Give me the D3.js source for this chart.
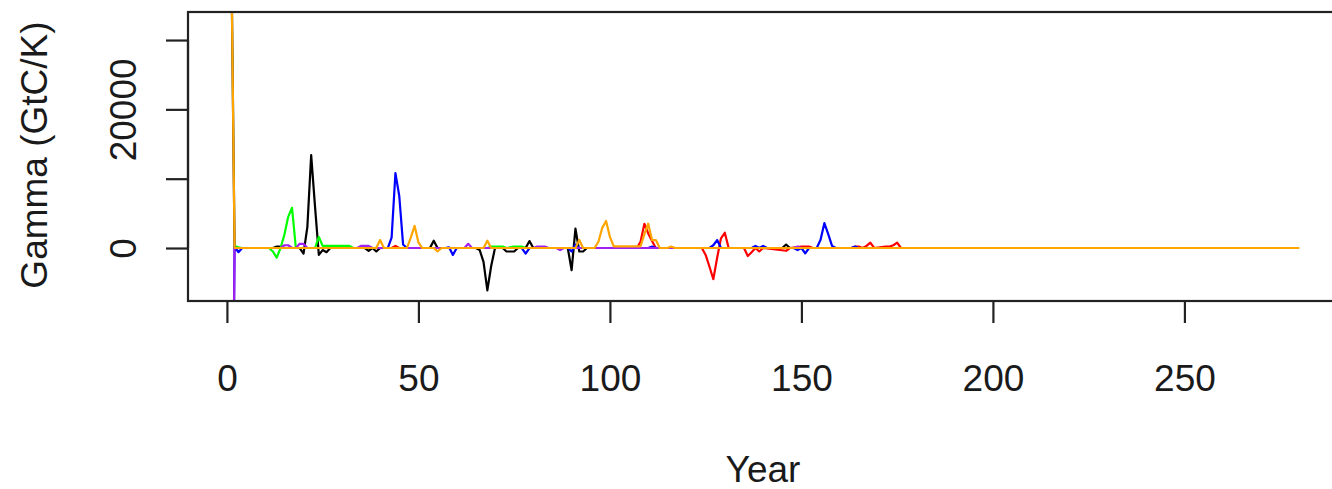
<!DOCTYPE html>
<html>
<head>
<meta charset="utf-8">
<script src="https://cdn.jsdelivr.net/npm/d3@7"></script>
<style>
  body { margin: 0; background: #fff; }
  text { font-family: "Liberation Sans", Arial, sans-serif; fill: #1a1a1a; }
</style>
</head>
<body>
<script>
const width = 1332, height = 489;

// gamma per model run, [year, GtC/K]; flat stretches only keep their end points
const blackPts = [[1, 50000], [2, 0], [12, 0], [13, 200], [14, 200], [15, 0], [19, 0], [20, -800],
  [21, 3000], [22, 13400], [23, 6000], [24, -1000], [25, -300], [26, -600], [27, 0], [36, 0],
  [37, -400], [38, 0], [39, -500], [40, 0], [53, 0], [54, 1050], [55, 0], [65, 0], [66, -300],
  [67, -2000], [68, -6100], [69, -2600], [70, 0], [72, 0], [73, -500], [75, -500], [76, 0],
  [78, 0], [79, 1000], [80, 0], [89, 0], [90, -3200], [91, 2800], [92, -500], [93, -500],
  [94, 0], [145, 0], [146, 500], [147, 0], [150, 0]];
const redPts = [[2, 0], [43, 0], [44, 300], [45, 0], [107, 0], [108, 900], [109, 3500], [110, 2100],
  [111, 1000], [112, 0], [124, 0], [125, -1000], [126, -2700], [127, -4500], [128, -1400],
  [129, 1400], [130, 2200], [131, 0], [135, 0], [136, -1150], [137, -600], [138, 0], [139, -500],
  [140, 0], [146, -400], [147, 0], [150, 200], [152, 200], [153, 0], [163, 0], [164, 200],
  [165, 200], [166, 0], [167, 300], [168, 770], [169, 0], [172, 200], [173, 200], [174, 400],
  [175, 770], [176, 0]];
const greenPts = [[2, 300], [3, 100], [4, 0], [11, 0], [12, -500], [13, -1400], [14, 0],
  [15, 1900], [16, 4500], [17, 5800], [18, 0], [23, 0], [24, 1600], [25, 300], [32, 300], [33, 0],
  [68, 0], [69, 200], [72, 200], [73, 0], [75, 200], [77, 200], [78, 0], [100, 0]];
const bluePts = [[1, -60000], [2, 200], [3, -600], [4, 0], [42, 0], [43, 1500], [44, 10800],
  [45, 7500], [46, 500], [47, 0], [57, 0], [58, 100], [59, -1000], [60, 0], [77, 0], [78, -800],
  [79, 0], [89, 0], [90, -500], [91, 500], [92, 0], [110, 0], [111, 200], [112, 0], [126, 0],
  [127, 400], [128, 1150], [129, 0], [137, 0], [138, 300], [139, 0], [140, 300], [141, 0],
  [148, 0], [149, -300], [150, 0], [151, -770], [152, 0], [154, 0], [155, 1200], [156, 3600],
  [157, 2000], [158, 300], [159, 0], [163, 0], [164, 200], [165, 0]];
const purplePts = [[1, -60000], [2, 0], [14, 0], [15, 400], [16, 400], [17, 0], [18, 0], [19, 600],
  [20, 600], [21, 0], [34, 0], [35, 300], [37, 300], [38, 0], [62, 0], [63, 600], [64, 0],
  [80, 0], [81, 200], [83, 200], [84, 0], [86, 0], [87, -300], [88, 0], [148, 0], [149, 200],
  [150, 0], [157, 0]];
const orangePts = [[1, 50000], [2, 0], [39, 0], [40, 1150], [41, 0], [47, 0], [48, 1500],
  [49, 3200], [50, 800], [51, 0], [54, 0], [55, -500], [56, 0], [67, 0], [68, 1050], [69, 0],
  [91, 0], [92, 1150], [93, 0], [96, 0], [97, 900], [98, 2900], [99, 3900], [100, 1600],
  [101, 250], [108, 250], [109, 2000], [110, 3500], [111, 1150], [112, 1150], [113, 0],
  [115, 0], [116, 200], [117, 0], [280, 0]];

const runs = [
  { pts: blackPts, colour: "#000000" },
  { pts: redPts, colour: "#FF0000" },
  { pts: greenPts, colour: "#00FF00" },
  { pts: bluePts, colour: "#0000FF" },
  { pts: purplePts, colour: "#A020F0" },
  { pts: orangePts, colour: "#FFA500" }
];

const xTicks = [0, 50, 100, 150, 200, 250];
const yTicks = [0, 10000, 20000, 30000];
const yTickLabels = ["0", "", "20000", ""];

// plot region, R style 4% padding on each side of the limits
const plotLeft = 188, plotTop = 12, plotBottom = 301;
const xLim = [1, 280], yLim = [-6100, 32500];
const xPad = (xLim[1] - xLim[0]) * 0.04, yPad = (yLim[1] - yLim[0]) * 0.04;
const pxPerYear = 3.83;
const plotRight = plotLeft + (xLim[1] - xLim[0] + 2 * xPad) * pxPerYear;

const x = d3.scaleLinear().domain([xLim[0] - xPad, xLim[1] + xPad]).range([plotLeft, plotRight]);
const y = d3.scaleLinear().domain([yLim[0] - yPad, yLim[1] + yPad]).range([plotBottom, plotTop]);

const svg = d3.select("body").append("svg")
    .attr("width", width)
    .attr("height", height);

svg.append("rect").attr("width", width).attr("height", height).attr("fill", "white");

svg.append("clipPath").attr("id", "plot-clip")
  .append("rect")
    .attr("x", plotLeft).attr("y", plotTop)
    .attr("width", plotRight - plotLeft).attr("height", plotBottom - plotTop);

const line = d3.line().x(d => x(d[0])).y(d => y(d[1]));

svg.append("g").attr("clip-path", "url(#plot-clip)")
  .selectAll("path")
  .data(runs)
  .enter().append("path")
    .attr("d", d => line(d.pts))
    .attr("fill", "none")
    .attr("stroke", d => d.colour)
    .attr("stroke-width", 2.2)
    .attr("stroke-linejoin", "round");

// frame
svg.append("rect")
    .attr("x", plotLeft).attr("y", plotTop)
    .attr("width", plotRight - plotLeft).attr("height", plotBottom - plotTop)
    .attr("fill", "none").attr("stroke", "#222").attr("stroke-width", 2.2);

const xAxis = svg.append("g")
    .attr("transform", `translate(0,${plotBottom})`)
    .call(d3.axisBottom(x).tickValues(xTicks).tickSize(22).tickFormat(d3.format("d")));
xAxis.select(".domain")
    .attr("d", `M${x(xTicks[0])},0H${x(xTicks[xTicks.length - 1])}`)
    .attr("stroke", "#222").attr("stroke-width", 2.2);
xAxis.selectAll(".tick line").attr("stroke", "#222").attr("stroke-width", 2.2);
xAxis.selectAll(".tick text")
    .attr("y", 90).attr("dy", null)
    .attr("font-size", 37).attr("font-family", "Liberation Sans, Arial, sans-serif")
    .attr("fill", "#1a1a1a");

const yAxis = svg.append("g")
    .attr("transform", `translate(${plotLeft},0)`)
    .call(d3.axisLeft(y).tickValues(yTicks).tickSize(22)
      .tickFormat((d, i) => yTickLabels[i]));
yAxis.select(".domain")
    .attr("d", `M0,${y(yTicks[0])}V${y(yTicks[yTicks.length - 1])}`)
    .attr("stroke", "#222").attr("stroke-width", 2.2);
yAxis.selectAll(".tick line").attr("stroke", "#222").attr("stroke-width", 2.2);
yAxis.selectAll(".tick text")
    .attr("x", null).attr("dy", null)
    .attr("transform", "translate(-52,0) rotate(-90)")
    .attr("text-anchor", "middle")
    .attr("font-size", 37).attr("font-family", "Liberation Sans, Arial, sans-serif")
    .attr("fill", "#1a1a1a");

svg.append("text")
    .attr("x", 763).attr("y", 482)
    .attr("text-anchor", "middle")
    .attr("font-size", 37)
    .text("Year");

svg.append("text")
    .attr("transform", "translate(47,155) rotate(-90)")
    .attr("text-anchor", "middle")
    .attr("font-size", 37)
    .text("Gamma (GtC/K)");
</script>
</body>
</html>
